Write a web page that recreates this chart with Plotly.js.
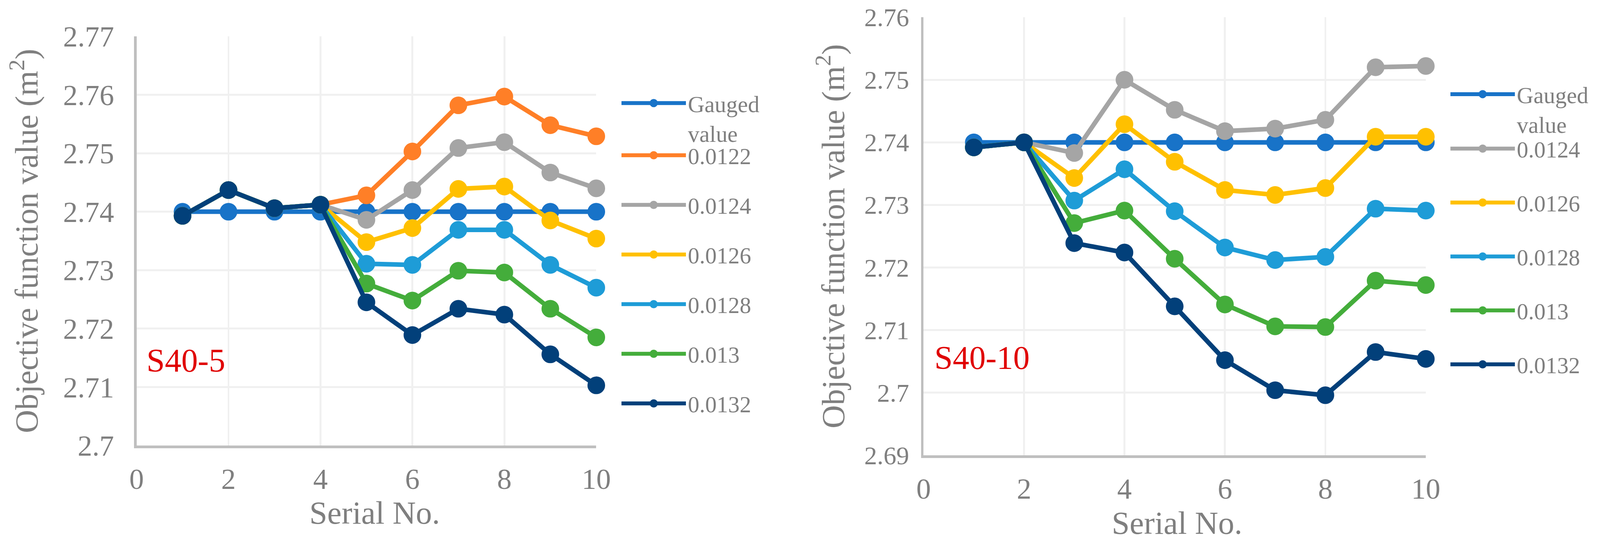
<!DOCTYPE html>
<html>
<head>
<meta charset="utf-8">
<script src="https://cdn.plot.ly/plotly-3.0.1.min.js"></script>
<style>html,body{margin:0;padding:0;background:#fff;overflow:hidden;}#chart{display:block;}</style>
</head>
<body>
<div id="chart"></div>
<script>
// ---- data ----
var serialNo = [1, 2, 3, 4, 5, 6, 7, 8, 9, 10];

var seriesNames = ['Gauged<br>value', '0.0122', '0.0124', '0.0126', '0.0128', '0.013', '0.0132'];
var seriesColors = ['#1873C8', '#FF7F27', '#A5A5A5', '#FFC000', '#1E9CD7', '#44AD3B', '#02407A'];

// S40-5 (left panel)
var s405Gauged = [2.740, 2.740, 2.740, 2.740, 2.740, 2.740, 2.740, 2.740, 2.740, 2.740];
var s405n0122 = [2.7393, 2.7437, 2.7406, 2.7412, 2.7428, 2.7503, 2.7582, 2.7597, 2.7548, 2.7529];
var s405n0124 = [2.7393, 2.7437, 2.7406, 2.7412, 2.7386, 2.7437, 2.7509, 2.7519, 2.7467, 2.7440];
var s405n0126 = [2.7393, 2.7437, 2.7406, 2.7412, 2.7348, 2.7372, 2.7439, 2.7443, 2.7385, 2.7354];
var s405n0128 = [2.7393, 2.7437, 2.7406, 2.7412, 2.7311, 2.7309, 2.7369, 2.7369, 2.7309, 2.7270];
var s405n0130 = [2.7393, 2.7437, 2.7406, 2.7412, 2.7277, 2.7248, 2.7299, 2.7296, 2.7234, 2.7185];
var s405n0132 = [2.7393, 2.7437, 2.7406, 2.7412, 2.7245, 2.7189, 2.7234, 2.7224, 2.7156, 2.7103];

// S40-10 (right panel)
var s4010Gauged = [2.740, 2.740, 2.740, 2.740, 2.740, 2.740, 2.740, 2.740, 2.740, 2.740];
var s4010n0124 = [2.7392, 2.7400, 2.7383, 2.7500, 2.7452, 2.7418, 2.7422, 2.7436, 2.7520, 2.7522];
var s4010n0126 = [2.7392, 2.7400, 2.7343, 2.7429, 2.7369, 2.7324, 2.7316, 2.7327, 2.7409, 2.7409];
var s4010n0128 = [2.7392, 2.7400, 2.7307, 2.7357, 2.7290, 2.7232, 2.7212, 2.7217, 2.7294, 2.7291];
var s4010n0130 = [2.7392, 2.7400, 2.7271, 2.7291, 2.7214, 2.7141, 2.7106, 2.7105, 2.7179, 2.7172];
var s4010n0132 = [2.7392, 2.7400, 2.7239, 2.7224, 2.7138, 2.7052, 2.7004, 2.6996, 2.7065, 2.7054];

var leftYTickVals = [2.70, 2.71, 2.72, 2.73, 2.74, 2.75, 2.76, 2.77];
var leftYTickText = ['2.7', '2.71', '2.72', '2.73', '2.74', '2.75', '2.76', '2.77'];
var rightYTickVals = [2.69, 2.70, 2.71, 2.72, 2.73, 2.74, 2.75, 2.76];
var rightYTickText = ['2.69', '2.7', '2.71', '2.72', '2.73', '2.74', '2.75', '2.76'];

var panelLabels = ['S40-5', 'S40-10'];
var xTitle = 'Serial No.';
var yTitle = 'Objective function value (m<sup>2</sup>)';

// ---- sizing: design frame is 4253 x 1392, mapped onto the actual viewport ----
var W = window.innerWidth || 4253;
var H = window.innerHeight || 1392;
var SX = W / 4253, SY = H / 1392, F = (SX + SY) / 2;
function fx(v) { return v * SX; }
function fy(v) { return v * SY; }
function ff(v) { return v * F; }

var FONT = "'Liberation Serif', 'Times New Roman', Times, serif";
var GREY = '#7F7F7F';
var LEG_FONT = 60;

function mk(y, idx, xa, ya, legendId, group) {
  return {
    x: serialNo, y: y, xaxis: xa, yaxis: ya,
    type: 'scatter', mode: 'lines+markers',
    name: seriesNames[idx],
    legend: legendId, legendgroup: group,
    line: {color: seriesColors[idx], width: ff(12)},
    marker: {color: seriesColors[idx], size: ff(38), line: {color: seriesColors[idx], width: ff(8)}},
    cliponaxis: false
  };
}

var leftSets = [s405Gauged, s405n0122, s405n0124, s405n0126, s405n0128, s405n0130, s405n0132];
var rightSets = [s4010Gauged, null, s4010n0124, s4010n0126, s4010n0128, s4010n0130, s4010n0132];

var traces = [];
leftSets.forEach(function (ys, i) {
  traces.push(mk(ys, i, 'x', 'y', i === 0 ? 'legend' : 'legend2', 'L' + i));
});
rightSets.forEach(function (ys, i) {
  if (!ys) return;
  traces.push(mk(ys, i, 'x2', 'y2', i === 0 ? 'legend3' : 'legend4', 'R' + i));
});

function xAx(domain, anchor) {
  return {
    domain: domain, anchor: anchor, range: [0, 10], dtick: 2, tick0: 0,
    showgrid: true, gridcolor: '#F0F0F0', gridwidth: ff(5),
    showline: true, linecolor: '#BFBFBF', linewidth: fy(7), zeroline: false,
    ticks: '', ticklabelstandoff: Math.round(fy(14)), automargin: false,
    tickfont: {family: FONT, size: ff(76), color: GREY},
    fixedrange: true
  };
}
function yAx(domain, anchor, range, vals, text, tsize, lstand, standoff) {
  return {
    domain: domain, anchor: anchor, range: range,
    tickmode: 'array', tickvals: vals, ticktext: text,
    showgrid: true, gridcolor: '#F0F0F0', gridwidth: ff(5),
    showline: true, linecolor: '#BFBFBF', linewidth: fx(7), zeroline: false,
    ticks: '', ticklabelstandoff: Math.round(fx(lstand)), automargin: false,
    tickfont: {family: FONT, size: ff(tsize), color: GREY},
    title: {text: yTitle, font: {family: FONT, size: ff(84), color: GREY}, standoff: fx(standoff)},
    fixedrange: true
  };
}

// spacing = distance between legend item centres in the design frame
function leg(x, y, spacing) {
  var itemH = ff(LEG_FONT) * 1.3 + 3;
  return {
    x: x, y: y, xanchor: 'left', yanchor: 'top', xref: 'paper', yref: 'paper',
    bgcolor: 'rgba(0,0,0,0)', borderwidth: 0,
    font: {family: FONT, size: ff(LEG_FONT), color: GREY},
    itemwidth: Math.max(30, Math.round(fx(171))),
    tracegroupgap: Math.max(0, fy(spacing) - itemH),
    traceorder: 'grouped', valign: 'top'
  };
}

function textNote(text, x, y, size, color) {
  return {text: text, xref: 'paper', yref: 'paper', x: x, y: y,
          xanchor: 'center', yanchor: 'middle', showarrow: false,
          font: {family: FONT, size: ff(size), color: color}};
}

var layout = {
  width: W, height: H,
  margin: {l: 0, r: 0, t: 0, b: 0, pad: 0, autoexpand: false},
  paper_bgcolor: '#FFFFFF', plot_bgcolor: '#FFFFFF',
  font: {family: FONT, color: GREY},
  showlegend: true,
  xaxis: xAx([0.08535, 0.37268], 'y'),
  yaxis: yAx([0.18103, 0.93319], 'x', [2.70, 2.77], leftYTickVals, leftYTickText, 76, 37, 41),
  xaxis2: xAx([0.57724, 0.89114], 'y2'),
  yaxis2: yAx([0.16307, 0.96839], 'x2', [2.69, 2.76], rightYTickVals, rightYTickText, 67, 18, 27),
  legend: leg(0.3872, 0.8427, 127),
  legend2: leg(0.3872, 0.7468, 127),
  legend3: leg(0.9053, 0.8591, 138),
  legend4: leg(0.9053, 0.7590, 138),
  annotations: [
    textNote(xTitle, 0.2342, 0.0574, 84, GREY),
    textNote(xTitle, 0.7355, 0.0381, 84, GREY),
    textNote(panelLabels[0], 0.11615, 0.33764, 86, '#E00000'),
    textNote(panelLabels[1], 0.61368, 0.34267, 86, '#E00000')
  ]
};

Plotly.newPlot('chart', traces, layout, {staticPlot: true, displayModeBar: false});
</script>
</body>
</html>
